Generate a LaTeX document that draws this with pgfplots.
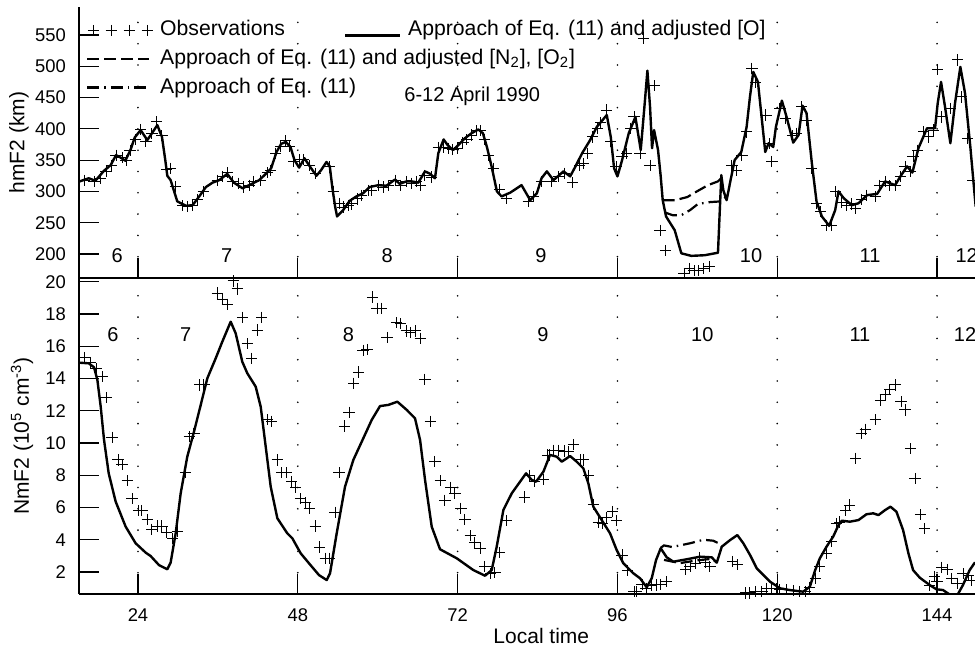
\documentclass[border=0pt]{standalone}
\usepackage{fontspec}
\setmainfont{Liberation Sans}
\usepackage{pgfplots}
\pgfplotsset{compat=1.18}
\begin{document}
\begin{tikzpicture}
\pgfplotsset{
  base/.style={
    scale only axis, width=448pt, xmin=15.14, xmax=149.7,
    axis x line=bottom, axis y line=left,
    axis line style={-, line width=0.75pt},
    tick align=inside, major tick length=10pt,
    tick style={line width=0.6pt, black},
    xtick={24,48,72,96,120,144}, minor tick num=0,
    xmajorgrids,
    grid style={black, line width=0.9pt, line cap=round, dash pattern=on 0pt off 10.65pt},
    /pgf/number format/assume math mode=true,
    ticklabel style={font=\fontsize{9.2}{10}\selectfont},
    yticklabel style={anchor=east, xshift=-3pt},
    label style={font=\fontsize{10.5}{12}\selectfont},
  },
  solidc/.style={black, line width=1.2pt, line join=round},
  dashc/.style={black, line width=1.1pt, dash pattern=on 6pt off 2.5pt},
  ddotc/.style={black, line width=1.1pt, dash pattern=on 6pt off 2.5pt on 0.8pt off 2.5pt},
  obsc/.style={black, only marks, mark=+, mark size=2.8pt, line width=0.5pt},
  obslegend/.style={legend image code/.code={\path[draw=none,fill=none] (-2pt,0pt) -- (35.5pt,0pt);\draw[##1] plot coordinates {(3pt,0pt)(12pt,0pt)(21pt,0pt)(30pt,0pt)};}},
  linelegend/.style={legend image code/.code={\path[draw=none,fill=none] (-2pt,0pt) -- (35.5pt,0pt);\draw[##1] (0pt,0pt) -- (31pt,0pt);}},
  solidlegend/.style={legend image code/.code={\path[draw=none,fill=none] (-2pt,0pt) -- (30.5pt,0pt);\draw[##1] (0pt,-2.5pt) -- (27.5pt,-2.5pt);}},
}
% ---------------- top panel ----------------
\begin{axis}[base, at={(39.5pt,186pt)}, anchor=south west, height=135.5pt,
  ymin=161.6, ymax=594.7, ytick={200,250,...,550}, xticklabels={},
  ylabel={hmF2 (km)},
  ylabel style={at={(axis description cs:-0.067,0.5)}, anchor=center},
  legend columns=2,
  legend cell align=left,
  legend style={draw=none, fill=none, at={(axis description cs:-0.0025,0.976)}, anchor=north west,
    font=\fontsize{10.6}{12}\selectfont, row sep=1.8pt,
    nodes={text height=8pt, text depth=2.5pt, inner sep=1pt}},
]
\addlegendimage{obsc, obslegend}
\addlegendentry{\makebox[89.5pt][l]{Observations}}
\addlegendimage{solidc, solidlegend}
\addlegendentry{Approach of Eq. (11) and adjusted [O]}
\addlegendimage{dashc, linelegend}
\addlegendentry{\rlap{Approach of Eq. (11) and adjusted [N\textsubscript{2}], [O\textsubscript{2}]}}
\addlegendimage{empty legend}
\addlegendentry{}
\addlegendimage{ddotc, linelegend}
\addlegendentry{\rlap{Approach of Eq. (11)}}
\addlegendimage{empty legend}
\addlegendentry{}

\addplot[solidc, forget plot] coordinates {(15.14,315.6)(16.6,321)(17.6,317)(18.9,333)(19.9,342)(20.7,358)(21.4,354)(22.1,349)(22.9,367)(23.5,386)(24.4,398)(25.4,382)(26.1,393)(26.9,406)(27.6,387)(28.1,350)(28.4,325)(28.9,318)(29.9,284)(31.2,277)(32.2,278)(33.2,292)(34.2,307)(35.2,314)(36.2,318)(37.4,328)(38.4,314)(39.7,305)(40.7,310)(42.2,318)(43.0,326)(44.0,337)(44.8,363)(45.5,376)(46.2,379)(46.9,371)(47.5,350)(48.2,338)(49.0,353)(49.8,340)(50.8,325)(51.5,334)(52.3,347)(52.8,340)(53.2,305)(53.6,276)(53.9,260)(54.8,270)(55.8,285)(56.8,292)(57.8,297)(58.8,307)(60.1,310)(61.3,309)(62.6,319)(63.3,312)(64.3,316)(65.1,316)(66.1,314)(67.1,332)(67.9,328)(68.6,321)(69.1,361)(69.9,383)(70.5,374)(71.3,366)(72.1,374)(73.1,385)(74.1,393)(75.1,399)(75.8,393)(76.4,371)(77.1,340)(77.9,300)(78.6,292)(79.9,298)(81.6,310)(82.9,286)(83.9,297)(84.6,321)(85.4,332)(86.4,318)(87.9,332)(88.9,324)(89.7,340)(90.7,361)(91.9,382)(92.9,403)(94.4,422)(95.0,387)(95.5,337)(96.0,324)(96.7,350)(97.7,393)(98.7,419)(99.5,366)(100.1,441)(100.5,493)(100.9,435)(101.2,369)(101.5,398)(102.1,366)(102.5,324)(102.8,286)(103.3,260)(104.6,238)(105.6,201)(107.1,197)(109.1,198)(111.1,202)(111.6,326)(111.9,302)(112.4,286)(112.9,313)(113.6,350)(114.6,363)(115.4,403)(115.9,451)(116.4,491)(117.1,475)(117.7,414)(118.2,363)(118.7,377)(119.4,371)(119.8,403)(120.7,445)(121.4,419)(122.4,378)(123.2,390)(123.8,437)(124.4,425)(125.2,345)(125.9,284)(126.7,260)(127.8,245)(128.7,270)(129.2,300)(130.0,289)(131.2,278)(132.2,281)(133.5,294)(135.0,296)(136.2,316)(137.7,310)(138.5,324)(139.5,340)(140.3,330)(141.2,369)(142.5,401)(143.7,401)(144.1,441)(144.6,475)(145.2,435)(146.0,377)(146.7,441)(147.5,499)(148.2,457)(149.0,371)(149.8,276)};
\addplot[dashc, forget plot] coordinates {(102.8,286)(104.7,286)(106.5,291)(108.1,301)(109.6,310)(111.1,316)(111.5,320)};
\addplot[ddotc, forget plot] coordinates {(103.2,266)(104.3,262)(105.6,262)(106.9,270)(108.1,280)(110.0,283)(111.5,284)(112.2,290)};
\addplot[obsc, forget plot] coordinates {(15.9,318)(17.4,316)(18.4,321)(19.2,332)(20.0,342)(20.7,358)(21.6,354)(22.2,349)(22.8,366)(23.6,383)(24.4,399)(25.2,380)(26.1,392)(26.8,411)(27.6,389)(28.3,335)(28.9,337)(29.6,308)(30.7,277)(31.4,276)(32.2,277)(32.9,287)(33.8,300)(35.9,318)(36.7,324)(37.4,330)(38.2,316)(39.1,313)(39.8,307)(40.7,310)(41.4,316)(42.4,318)(43.4,330)(43.9,334)(44.7,361)(45.4,372)(46.2,381)(46.8,372)(47.4,348)(48.2,351)(48.9,351)(49.7,342)(50.7,328)(52.8,339)(53.3,300)(54.2,281)(54.8,275)(55.6,278)(56.1,280)(56.9,288)(57.6,294)(58.6,302)(59.1,302)(60.1,310)(60.8,307)(61.6,309)(62.6,318)(63.4,310)(64.3,316)(65.1,313)(65.8,316)(66.4,310)(67.1,326)(68.1,323)(69.1,370)(69.9,370)(70.6,369)(71.3,367)(72.0,369)(72.8,378)(73.4,383)(74.1,390)(74.9,397)(75.4,397)(76.0,383)(76.6,358)(77.4,337)(78.3,303)(79.3,289)(82.6,284)(83.4,292)(84.6,316)(86.1,316)(87.1,324)(88.1,329)(89.3,314)(90.3,342)(90.9,344)(91.5,361)(92.3,387)(93.0,401)(93.5,410)(94.3,430)(95.0,380)(95.8,340)(96.7,356)(97.4,361)(98.0,401)(98.5,419)(99.4,361)(99.9,545)(100.9,342)(101.5,469)(102.4,238)(103.2,205)(106.0,169)(106.8,177)(107.5,173)(108.2,173)(108.9,177)(109.8,180)(113.2,342)(113.9,334)(114.7,358)(115.4,395)(116.2,497)(116.7,474)(118.3,422)(118.8,376)(119.2,348)(120.4,433)(121.2,417)(122.3,389)(122.9,393)(123.7,435)(124.4,414)(125.2,337)(125.9,281)(126.5,268)(127.4,246)(128.2,246)(128.8,300)(129.7,282)(130.4,277)(131.2,280)(131.8,273)(132.7,287)(133.4,294)(134.7,292)(135.4,310)(136.2,316)(136.9,309)(137.7,309)(138.5,324)(139.2,340)(140.0,332)(140.4,356)(141.1,366)(142.0,395)(142.7,387)(143.5,398)(144.1,495)(144.7,419)(146.0,433)(147.1,510)(147.7,451)(148.6,385)(149.4,318)};
\node[font=\fontsize{10}{11}\selectfont, anchor=base] at (axis cs:20.88,186.1) {6};
\node[font=\fontsize{10}{11}\selectfont, anchor=base] at (axis cs:37.32,186.1) {7};
\node[font=\fontsize{10}{11}\selectfont, anchor=base] at (axis cs:61.43,186.1) {8};
\node[font=\fontsize{10}{11}\selectfont, anchor=base] at (axis cs:84.5,186.1) {9};
\node[font=\fontsize{10}{11}\selectfont, anchor=base] at (axis cs:116.07,186.1) {10};
\node[font=\fontsize{10}{11}\selectfont, anchor=base] at (axis cs:133.94,186.1) {11};
\node[font=\fontsize{10}{11}\selectfont, anchor=base] at (axis cs:148.45,186.1) {12};
\node[font=\fontsize{10}{12}\selectfont, anchor=base] at (axis cs:74.2,443.4) {6-12 April 1990};
\end{axis}
% ---------------- bottom panel ----------------
\begin{axis}[base, at={(39.5pt,28pt)}, anchor=south west, height=158pt,
  ymin=0.636, ymax=20.23, ytick={2,4,...,20},
  xticklabel style={anchor=base, yshift=-13.8pt},
  xlabel={Local time},
  xlabel style={at={(axis description cs:0.516,-0.158)}, anchor=base},
  ylabel={NmF2 (10\textsuperscript{5} cm\textsuperscript{-3})},
  ylabel style={at={(axis description cs:-0.0636,0.5)}, anchor=center},
]
\addplot[solidc] coordinates {(15.14,14.98)(16.6,14.94)(17.4,14.69)(17.9,13.91)(18.4,12.25)(18.9,10.19)(19.6,8.12)(20.65,6.36)(22.15,4.81)(23.65,3.78)(25.16,3.20)(25.9,2.99)(27.15,2.43)(28.4,2.17)(28.9,2.58)(29.66,4.40)(30.41,6.88)(31.4,9.15)(32.41,10.70)(33.42,12.36)(34.41,14.01)(35.67,15.25)(36.66,16.28)(37.92,17.52)(38.67,16.80)(39.66,15.04)(40.42,14.32)(41.68,13.49)(42.43,12.25)(43.18,9.77)(43.93,7.29)(44.93,5.33)(46.42,4.40)(47.18,4.09)(48.43,3.16)(49.68,2.54)(51.18,1.81)(52.34,1.50)(52.84,1.92)(53.84,4.40)(55.09,7.29)(56.34,8.95)(57.6,10.08)(59.1,11.43)(60.35,12.29)(61.59,12.36)(62.95,12.56)(64.36,12.05)(65.6,11.53)(66.36,10.19)(67.11,7.71)(68.11,4.81)(69.36,3.41)(71.87,2.85)(74.36,2.12)(76.12,1.77)(77.12,2.12)(77.87,3.57)(78.87,5.84)(80.13,6.88)(82.28,8.12)(83.13,7.71)(83.78,7.60)(84.88,8.22)(85.88,9.26)(86.89,9.15)(87.64,8.84)(88.89,9.19)(89.89,8.84)(90.88,8.43)(91.63,7.50)(92.38,6.05)(93.64,5.22)(94.89,4.40)(95.89,3.36)(96.89,2.54)(98.39,1.92)(99.40,1.61)(100.40,1.05)(101.15,1.61)(101.80,2.74)(102.50,3.47)(103.40,2.91)(104.40,2.64)(106.41,2.79)(108.41,2.95)(110.16,2.91)(110.92,2.58)(111.67,3.57)(112.92,3.98)(114.01,4.29)(114.91,3.78)(115.92,3.05)(116.92,2.23)(118.92,1.40)(120.42,0.99)(121.9,0.88)(123.9,0.78)(124.9,1.09)(125.7,2.12)(126.4,2.85)(127.4,3.57)(128.4,4.19)(129.2,4.91)(129.7,5.18)(130.9,5.12)(132.2,5.22)(133.4,5.58)(134.4,5.64)(135.2,5.53)(136.2,5.84)(137.0,6.05)(137.9,5.74)(138.9,4.60)(139.7,3.16)(140.4,2.12)(141.4,1.65)(142.9,1.19)(143.9,0.93)(144.9,0.88)(145.9,0.6)(146.9,0.45)(147.9,1.2)(148.9,2.12)(149.7,2.6)};
\addplot[dashc] coordinates {(103.0,2.75)(105.4,2.55)(107.9,2.72)(110.2,2.82)(110.9,2.6)};
\addplot[ddotc] coordinates {(102.5,3.5)(103.0,3.65)(104.2,3.55)(106.9,3.78)(108.9,4.0)(110.4,3.94)(111.2,3.78)(111.7,3.57)};
\addplot[obsc] coordinates {(16.0,15.3)(16.9,15.0)(17.7,14.6)(18.6,14.1)(19.2,12.8)(20.1,10.35)(21.0,8.95)(21.6,8.65)(22.4,7.65)(23.1,6.55)(24.1,5.8)(24.6,5.8)(25.4,5.25)(26.1,4.65)(26.9,4.85)(27.6,4.85)(28.3,4.45)(29.2,4.1)(29.9,4.5)(31.1,8.15)(31.7,10.4)(32.4,10.6)(33.3,13.6)(33.9,13.6)(35.9,19.3)(36.7,18.9)(37.4,18.6)(38.3,20.05)(38.9,19.55)(39.7,17.8)(40.4,16.15)(41.1,15.25)(41.9,17.0)(42.6,17.8)(43.4,11.45)(44.1,11.35)(44.9,8.95)(45.6,8.15)(46.3,8.15)(47.1,7.6)(47.7,7.25)(48.4,6.55)(49.1,6.3)(49.7,5.95)(50.6,4.85)(51.3,3.55)(52.1,2.85)(52.8,2.85)(53.6,5.7)(54.2,8.15)(55.0,11.05)(55.7,11.9)(56.4,13.7)(57.1,14.4)(57.8,15.75)(58.4,15.8)(59.2,19.05)(59.9,18.35)(60.6,18.35)(61.4,16.55)(62.8,17.45)(63.4,17.4)(64.3,16.95)(64.9,16.85)(65.6,16.95)(66.4,16.5)(67.1,13.95)(67.9,11.35)(68.6,8.85)(69.4,7.65)(70.1,6.45)(71.0,7.25)(71.6,6.85)(72.5,5.95)(73.1,5.25)(73.9,4.25)(74.6,3.8)(75.4,3.45)(76.1,2.35)(76.9,1.9)(77.6,1.95)(78.3,3.2)(79.4,5.2)(82.0,6.65)(82.8,8.0)(83.6,7.6)(84.9,7.75)(85.5,9.25)(85.8,9.25)(86.4,9.55)(87.1,9.55)(88.0,9.5)(88.6,9.45)(89.4,9.9)(90.4,8.95)(90.9,8.95)(91.6,8.0)(92.4,6.2)(93.1,5.05)(93.8,5.0)(94.4,5.35)(95.2,5.75)(95.9,5.2)(96.7,3.05)(97.5,2.1)(98.5,0.8)(98.9,0.8)(99.7,1.25)(100.3,1.0)(101.1,1.15)(101.8,1.2)(102.5,1.25)(103.3,1.4)(106.2,2.15)(106.9,2.35)(107.7,2.55)(108.4,2.9)(109.2,2.6)(109.9,2.35)(113.3,2.65)(114.0,2.45)(115.3,0.7)(115.9,0.7)(116.8,0.8)(117.7,0.8)(118.4,1.0)(119.2,1.0)(119.9,0.95)(120.4,0.9)(121.4,0.9)(122.4,0.85)(123.4,0.8)(124.2,0.8)(124.9,1.05)(125.7,1.6)(126.4,2.35)(127.4,3.15)(128.2,3.9)(128.9,5.0)(129.4,5.1)(130.3,5.8)(130.9,6.15)(131.8,9.05)(132.6,10.6)(133.2,10.85)(134.7,11.45)(135.5,12.65)(136.2,13.0)(136.9,13.3)(137.7,13.6)(138.6,12.55)(139.2,12.05)(140.0,9.65)(140.7,7.8)(141.5,5.55)(142.1,4.7)(142.9,1.15)(143.6,1.7)(144.0,1.4)(144.7,2.3)(145.5,2.15)(146.2,1.6)(147.0,1.3)(147.9,1.9)(148.7,1.8)(149.2,1.45)};
\node[font=\fontsize{10}{11}\selectfont, anchor=base] at (axis cs:20.22,16.28) {6};
\node[font=\fontsize{10}{11}\selectfont, anchor=base] at (axis cs:31.18,16.28) {7};
\node[font=\fontsize{10}{11}\selectfont, anchor=base] at (axis cs:55.59,16.28) {8};
\node[font=\fontsize{10}{11}\selectfont, anchor=base] at (axis cs:84.8,16.28) {9};
\node[font=\fontsize{10}{11}\selectfont, anchor=base] at (axis cs:108.74,16.28) {10};
\node[font=\fontsize{10}{11}\selectfont, anchor=base] at (axis cs:132.42,16.28) {11};
\node[font=\fontsize{10}{11}\selectfont, anchor=base] at (axis cs:148.2,16.28) {12};
\end{axis}
\pgfresetboundingbox
\path (0pt,0pt) rectangle (487.5pt,325pt);
\end{tikzpicture}
\end{document}
